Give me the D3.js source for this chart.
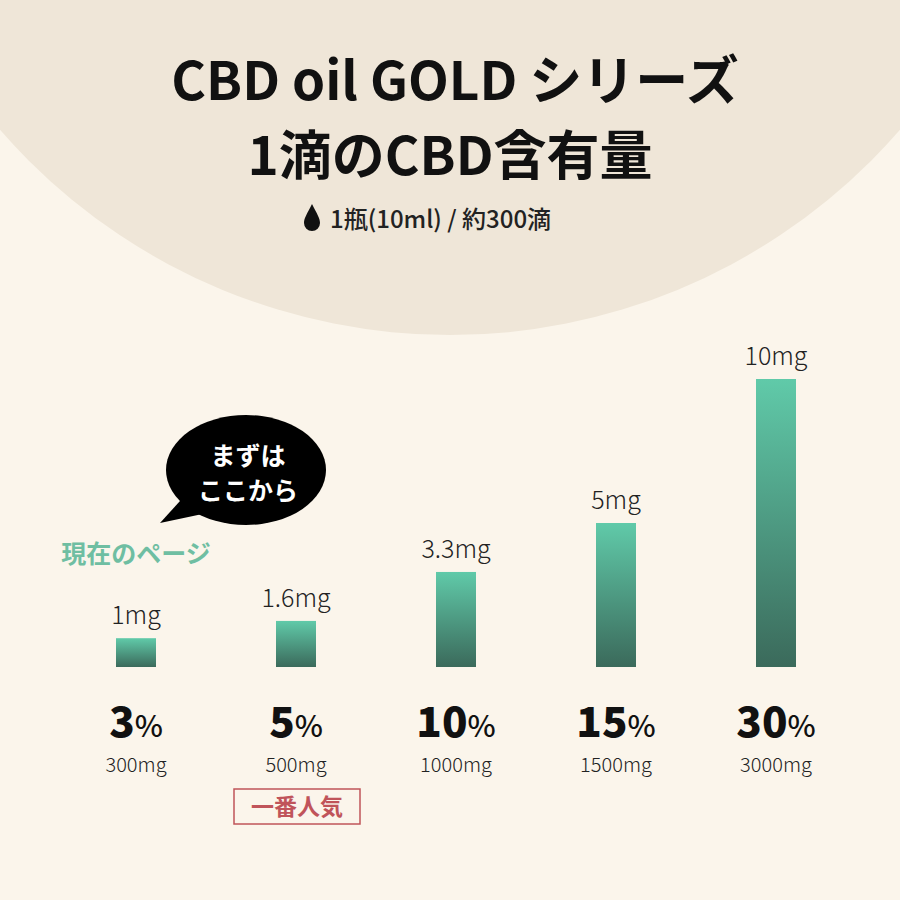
<!DOCTYPE html>
<html><head><meta charset="utf-8">
<script src="https://cdn.jsdelivr.net/npm/d3@7"></script>
<style>body{margin:0;background:#fbf5eb}</style>
</head><body><div id="chart"></div>
<script>
var percents = ["3", "5", "10", "15", "30"];
var totals = ["300mg", "500mg", "1000mg", "1500mg", "3000mg"];
var perDrop = [1, 1.6, 3.3, 5, 10];
var dropLabels = ["1mg", "1.6mg", "3.3mg", "5mg", "10mg"];

var width = 900, height = 900;
var jp = "'Noto Sans CJK JP', 'Noto Sans', sans-serif";

var svg = d3.select("#chart").append("svg")
    .attr("width", width).attr("height", height);

svg.append("rect").attr("width", width).attr("height", height).attr("fill", "#fbf5eb");
svg.append("circle").attr("cx", 450).attr("cy", -261).attr("r", 596).attr("fill", "#efe6d8");

var grad = svg.append("defs").append("linearGradient")
    .attr("id", "bar").attr("x1", 0).attr("y1", 0).attr("x2", 0).attr("y2", 1);
grad.append("stop").attr("offset", "0%").attr("stop-color", "#60caa9");
grad.append("stop").attr("offset", "100%").attr("stop-color", "#3b6a5b");

svg.append("text").attr("x", 455).attr("y", 100).attr("text-anchor", "middle")
    .style("font", "bold 53px " + jp).attr("fill", "#111").text("CBD oil GOLD シリーズ");
svg.append("text").attr("x", 450).attr("y", 175).attr("text-anchor", "middle")
    .style("font", "bold 53px " + jp).attr("fill", "#111").text("1滴のCBD含有量");
svg.append("path").attr("d", "M312,204 C307,214 304,218 304,223 A8,8 0 0 0 320,223 C320,218 317,214 312,204Z").attr("fill", "#111");
svg.append("text").attr("x", 330).attr("y", 228).style("font", "500 24px " + jp)
    .attr("fill", "#222").text("1瓶(10ml) / 約300滴");

var x = d3.scaleBand().domain(percents).range([56, 856]).paddingInner(0.75).paddingOuter(0.375);
var y = d3.scaleLinear().domain([0, 10]).range([667, 379]);

svg.selectAll(".bar").data(perDrop).enter().append("rect")
    .attr("x", (d, i) => x(percents[i])).attr("width", x.bandwidth())
    .attr("y", d => y(d)).attr("height", d => y(0) - y(d))
    .attr("fill", "url(#bar)");

svg.selectAll(".vl").data(perDrop).enter().append("text")
    .attr("x", (d, i) => x(percents[i]) + x.bandwidth() / 2)
    .attr("y", d => y(d) - 14).attr("text-anchor", "middle")
    .style("font", "300 25px " + jp).attr("fill", "#222")
    .text((d, i) => dropLabels[i]);

var pct = svg.selectAll(".pct").data(percents).enter().append("text")
    .attr("x", d => x(d) + x.bandwidth() / 2).attr("y", 737).attr("text-anchor", "middle")
    .attr("fill", "#111");
pct.append("tspan").style("font", "900 42px " + jp).text(d => d);
pct.append("tspan").style("font", "500 30px " + jp).text("%");

svg.selectAll(".tot").data(totals).enter().append("text")
    .attr("x", (d, i) => x(percents[i]) + x.bandwidth() / 2).attr("y", 772).attr("text-anchor", "middle")
    .style("font", "300 20px " + jp).attr("fill", "#222").text(d => d);

// popular badge
var bx = x("5") + x.bandwidth() / 2;
svg.append("rect").attr("x", bx - 62).attr("y", 789).attr("width", 126).attr("height", 35)
    .attr("fill", "none").attr("stroke", "#c0545a").attr("stroke-width", 1.5);
svg.append("text").attr("x", bx + 1).attr("y", 815).attr("text-anchor", "middle")
    .style("font", "bold 23px " + jp).attr("fill", "#c0545a").text("一番人気");

// speech bubble
svg.append("ellipse").attr("cx", 246).attr("cy", 470).attr("rx", 80).attr("ry", 55).attr("fill", "#000");
svg.append("path").attr("d", "M160,523 L190,490 L212,512 Z").attr("fill", "#000");
svg.append("text").attr("x", 248).attr("y", 465).attr("text-anchor", "middle")
    .style("font", "bold 25px " + jp).attr("fill", "#fff").text("まずは");
svg.append("text").attr("x", 248).attr("y", 500).attr("text-anchor", "middle")
    .style("font", "bold 25px " + jp).attr("fill", "#fff").text("ここから");
svg.append("text").attr("x", 136).attr("y", 563).attr("text-anchor", "middle")
    .style("font", "bold 25px " + jp).attr("fill", "#6fbea2").text("現在のページ");
</script></body></html>
